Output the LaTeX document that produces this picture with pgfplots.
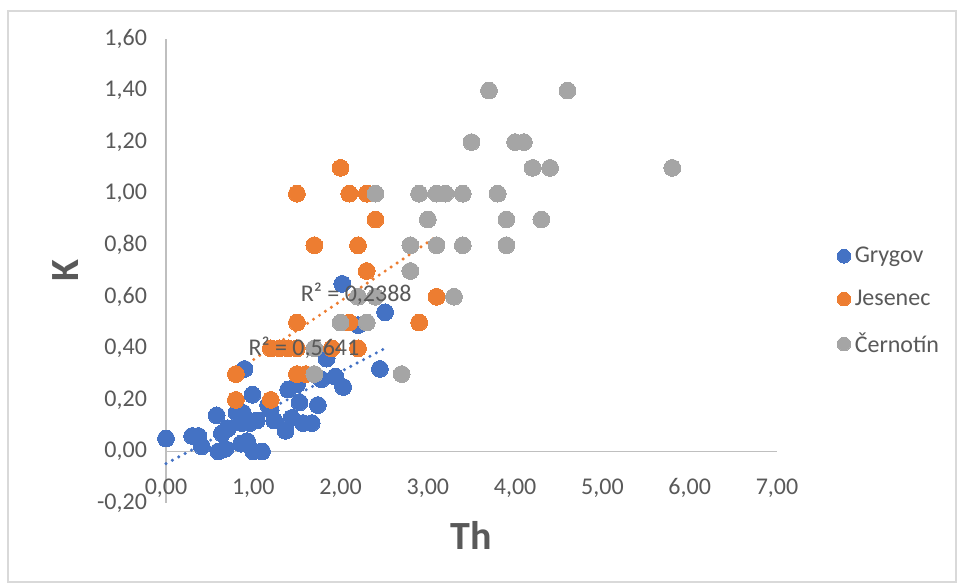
\documentclass[border=0pt]{standalone}
\usepackage{pgfplots}
\pgfplotsset{compat=1.18}
\usepackage{fontspec}
\setmainfont{Carlito}
\definecolor{cblue}{HTML}{4472C4}
\definecolor{corange}{HTML}{ED7D31}
\definecolor{cgray}{HTML}{A5A5A5}
\definecolor{ctext}{HTML}{595959}
\definecolor{caxis}{HTML}{BFBFBF}
\definecolor{cframe}{HTML}{D9D9D9}
\begin{document}
\begin{tikzpicture}
\useasboundingbox (-83pt,-42pt) rectangle (395.5pt,251.5pt);
\draw[cframe, line width=0.6pt] (-79pt,246pt) rectangle (395pt,-39.5pt);
\begin{axis}[
  at={(0pt,0pt)}, anchor=south west,
  width=305.5pt, height=232pt, scale only axis,
  xmin=0, xmax=7, ymin=-0.2, ymax=1.6,
  axis x line=middle, axis y line=left,
  hide obscured x ticks=false, hide obscured y ticks=false,
  axis line style={-, caxis, line width=0.8pt},
  xtick={0,1,2,3,4,5,6,7},
  ytick={-0.2,0,0.2,0.4,0.6,0.8,1.0,1.2,1.4,1.6},
  major tick length=0pt,
  tick label style={font=\fontsize{12}{14}\selectfont, text=ctext},
  xticklabel style={yshift=-10pt},
  yticklabel style={xshift=-6pt},
  /pgf/number format/.cd, use comma, fixed, fixed zerofill, precision=2, assume math mode=true,
  /pgfplots/.cd,
  clip=false,
  legend style={at={(rel axis cs:1.088,0.435)}, anchor=west, draw=none, fill=none,
    font=\fontsize{12}{14}\selectfont, text=ctext, row sep=8.2pt,
    /tikz/every even column/.append style={column sep=1pt}},
  legend image post style={mark size=3.4pt},
  legend cell align=left,
]
\addplot[cblue, only marks, mark=*, mark size=4.2pt, mark options={draw=cblue, fill=cblue, line width=0pt}] coordinates {
(0.00,0.05) (0.30,0.06) (0.37,0.06) (0.41,0.02) (0.58,0.14) (0.60,0.00) (0.68,0.01)
(0.64,0.07) (0.71,0.09) (0.81,0.15) (0.86,0.03) (0.88,0.15) (0.90,0.32) (0.87,0.11)
(0.93,0.04) (0.96,0.11) (0.99,0.22) (1.00,0.00) (1.04,0.12) (1.10,0.00) (1.17,0.18)
(1.20,0.16) (1.24,0.12) (1.37,0.08) (1.40,0.24) (1.44,0.13) (1.50,0.26) (1.53,0.19)
(1.57,0.11) (1.67,0.11) (1.74,0.18) (1.78,0.28) (1.84,0.36) (1.94,0.29) (2.03,0.25)
(2.02,0.65) (2.20,0.49) (2.51,0.54) (2.45,0.32)
};
\addlegendentry{Grygov}
\addplot[corange, only marks, mark=*, mark size=4.2pt, mark options={draw=corange, fill=corange, line width=0pt}] coordinates {
(2.0,1.1) (1.5,1.0) (2.1,1.0) (2.3,1.0) (2.4,0.9) (1.7,0.8) (2.2,0.8) (2.3,0.7)
(3.1,0.6) (1.5,0.5) (2.1,0.5) (2.9,0.5) (1.2,0.4) (1.3,0.4) (1.4,0.4) (1.5,0.4)
(1.9,0.4) (2.2,0.4) (0.8,0.3) (1.5,0.3) (1.6,0.3) (0.8,0.2) (1.2,0.2)
};
\addlegendentry{Jesenec}
\addplot[cgray, only marks, mark=*, mark size=4.2pt, mark options={draw=cgray, fill=cgray, line width=0pt}] coordinates {
(3.7,1.4) (4.6,1.4) (3.5,1.2) (4.0,1.2) (4.1,1.2) (4.2,1.1) (4.4,1.1) (5.8,1.1)
(2.4,1.0) (2.9,1.0) (3.1,1.0) (3.2,1.0) (3.4,1.0) (3.8,1.0) (3.0,0.9) (3.9,0.9)
(4.3,0.9) (2.8,0.8) (3.1,0.8) (3.4,0.8) (3.9,0.8) (2.8,0.7) (2.2,0.6) (2.4,0.6)
(3.3,0.6) (2.0,0.5) (2.3,0.5) (1.7,0.4) (1.7,0.3) (2.7,0.3)
};
\addlegendentry{Černotín}
\addplot[cblue, line width=1.7pt, line cap=round, dash pattern=on 0pt off 3.6pt, forget plot] coordinates {(0,-0.047) (2.51,0.400)};
\addplot[corange, line width=1.7pt, line cap=round, dash pattern=on 0pt off 3.6pt, forget plot] coordinates {(0.8,0.310) (3.1,0.834)};
\coordinate (r1) at (axis cs:2.18,0.613);
\coordinate (r2) at (axis cs:1.58,0.402);
\node[text=ctext, font=\bfseries\fontsize{20}{24}\selectfont] at (rel axis cs:0.5,-0.069) {Th};
\node[text=ctext, font=\bfseries\fontsize{20}{24}\selectfont, rotate=90] at (rel axis cs:-0.165,0.502) {K};
\end{axis}
\node[text=ctext, font=\fontsize{12}{14}\selectfont] at (r1) {R² = 0,2388};
\node[text=ctext, font=\fontsize{12}{14}\selectfont] at (r2) {R² = 0,5641};
\end{tikzpicture}
\end{document}
